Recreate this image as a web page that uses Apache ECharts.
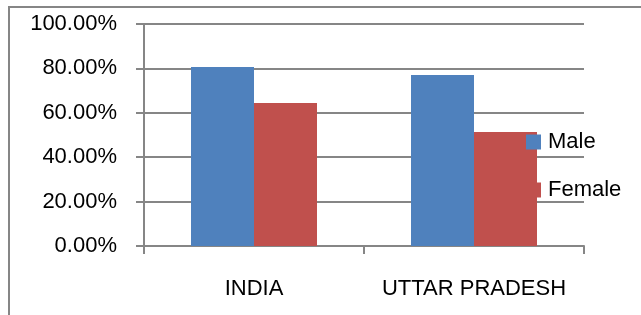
<!DOCTYPE html>
<html>
<head>
<meta charset="utf-8">
<script src="https://cdn.jsdelivr.net/npm/echarts@6/dist/echarts.min.js"></script>
<style>
  html, body { margin: 0; padding: 0; background: #fff; }
  #main { width: 641px; height: 315px; }
</style>
</head>
<body>
<div id="main"></div>
<script>
// 資料
const categories = ['INDIA', 'UTTAR PRADESH'];
const maleValues = [80.6, 77.0];
const femaleValues = [64.4, 51.4];
const seriesNames = ['Male', 'Female'];

const gridColor = '#868686';
const fontFamily = '"Liberation Sans", Arial, sans-serif';
const fontSize = 22;

const myChart = echarts.init(document.getElementById('main'));

const option = {
    animation: false,
    backgroundColor: '#fff',
    // 外框
    graphic: [{
        type: 'rect',
        shape: { x: 9, y: 7, width: 700, height: 400 },
        style: { fill: 'none', stroke: gridColor, lineWidth: 2 },
        silent: true
    }],
    grid: { left: 144, right: 57, top: 24, bottom: 69 },
    legend: {
        data: seriesNames,
        orient: 'vertical',
        left: 526,
        top: 131,
        padding: 0,
        itemWidth: 15,
        itemHeight: 15,
        itemGap: 26,
        icon: 'rect',
        textStyle: { fontSize: fontSize, fontFamily: fontFamily, color: '#000', padding: [0, 0, 0, 2] }
    },
    xAxis: {
        type: 'category',
        data: categories,
        axisLine: { lineStyle: { color: gridColor, width: 2 } },
        axisTick: { show: true, length: 8, lineStyle: { color: gridColor, width: 2 } },
        axisLabel: { interval: 0, fontSize: fontSize, fontFamily: fontFamily, color: '#000', margin: 32 }
    },
    yAxis: {
        type: 'value',
        min: 0,
        max: 100,
        interval: 20,
        axisLine: { show: true, lineStyle: { color: gridColor, width: 2 } },
        axisTick: { show: true, length: 8, lineStyle: { color: gridColor, width: 2 } },
        splitLine: { lineStyle: { color: gridColor, width: 2 } },
        axisLabel: {
            fontSize: fontSize,
            fontFamily: fontFamily,
            color: '#000',
            margin: 27,
            formatter: v => v.toFixed(2) + '%'
        }
    },
    series: [
        {
            name: seriesNames[0],
            type: 'bar',
            data: maleValues,
            barWidth: 63,
            barGap: 0,
            itemStyle: { color: '#4F81BD' }
        },
        {
            name: seriesNames[1],
            type: 'bar',
            data: femaleValues,
            barWidth: 63,
            barGap: 0,
            itemStyle: { color: '#C0504D' }
        }
    ]
};

myChart.setOption(option);
</script>
</body>
</html>
